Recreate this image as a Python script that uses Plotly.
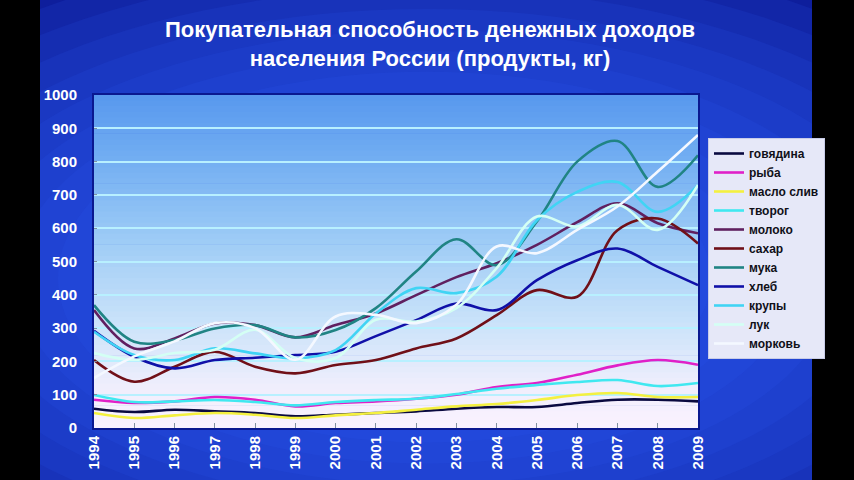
import plotly.graph_objects as go

years = list(range(1994, 2010))

beef   = [58, 48, 55, 50, 45, 35, 40, 45, 50, 58, 63, 63, 75, 85, 85, 80]
fish   = [85, 75, 80, 93, 85, 65, 75, 80, 88, 100, 123, 135, 160, 188, 204, 190]
butter = [45, 30, 38, 45, 40, 30, 38, 45, 55, 65, 72, 84, 99, 105, 93, 93]
curd   = [99, 78, 80, 84, 78, 68, 78, 84, 88, 102, 118, 129, 138, 144, 126, 135]
milk   = [354, 239, 269, 314, 309, 272, 309, 344, 399, 453, 495, 550, 618, 675, 615, 585]
sugar  = [204, 139, 184, 229, 184, 164, 189, 204, 239, 269, 339, 414, 394, 594, 629, 554]
flour  = [369, 259, 264, 299, 309, 272, 294, 360, 470, 567, 489, 620, 800, 862, 724, 819]
bread  = [292, 214, 179, 204, 211, 219, 229, 276, 324, 374, 354, 444, 504, 539, 484, 429]
groats = [289, 219, 204, 239, 224, 209, 234, 344, 420, 405, 454, 624, 709, 739, 649, 729]
onion  = [225, 205, 225, 235, 295, 210, 210, 325, 320, 360, 480, 635, 605, 670, 595, 730]
carrot = [150, 215, 260, 315, 300, 205, 335, 340, 315, 370, 545, 525, 595, 665, 770, 880]

names = ["говядина", "рыба", "масло слив", "творог", "молоко", "сахар",
         "мука", "хлеб", "крупы", "лук", "морковь"]
series = [beef, fish, butter, curd, milk, sugar, flour, bread, groats, onion, carrot]
colors = ["#0A0A40", "#E020C8", "#F4F040", "#40E8F0", "#602060", "#701018",
          "#208484", "#1010A8", "#40D4F4", "#D4FFF4", "#F4F8FF"]

fig = go.Figure()
for n, s, c in zip(names, series, colors):
    fig.add_trace(go.Scatter(x=years, y=s, name=n, mode="lines",
                             line=dict(color=c, width=2.6, shape="spline", smoothing=1.0)))

shapes = []
# background glow (soft, many layers)
K = 14
for i in range(K):
    r = 0.95 - i * 0.06
    shapes.append(dict(type="circle", xref="paper", yref="paper", layer="below",
                       x0=0.55 - r * 1.15, x1=0.55 + r * 1.15, y0=0.45 - r * 1.05, y1=0.45 + r * 1.05,
                       fillcolor="rgba(45,95,250,0.13)", line=dict(width=0)))

# plot area vertical gradient
stops = [(0.0, (250, 242, 255)), (0.12, (240, 238, 252)), (0.3, (205, 228, 250)),
         (0.55, (160, 205, 246)), (0.8, (115, 175, 242)), (1.0, (88, 152, 238))]
def interp(t):
    for (t0, c0), (t1, c1) in zip(stops[:-1], stops[1:]):
        if t0 <= t <= t1:
            f = (t - t0) / (t1 - t0)
            return tuple(int(round(a + (b - a) * f)) for a, b in zip(c0, c1))
    return stops[-1][1]
N = 60
for i in range(N):
    r, g, b = interp((i + 0.5) / N)
    shapes.append(dict(type="rect", xref="x domain", yref="y domain", layer="below",
                       x0=0, x1=1, y0=i / N, y1=(i + 1) / N + 0.002,
                       fillcolor=f"rgb({r},{g},{b})", line=dict(width=0)))

# black side bars
shapes.append(dict(type="rect", xref="paper", yref="paper", layer="above",
                   x0=-0.3, x1=(40 - 94) / 604, y0=-0.3, y1=1.4,
                   fillcolor="black", line=dict(width=0)))
shapes.append(dict(type="rect", xref="paper", yref="paper", layer="above",
                   x0=(812 - 94) / 604, x1=1.4, y0=-0.3, y1=1.4,
                   fillcolor="black", line=dict(width=0)))

fig.update_layout(
    width=854, height=480,
    margin=dict(l=94, r=156, t=95, b=52, autoexpand=False),
    paper_bgcolor="#0E1E9C",
    plot_bgcolor="rgba(0,0,0,0)",
    shapes=shapes,
    font=dict(family="Liberation Sans"),
    showlegend=True,
    legend=dict(x=(708 - 94) / 604, xanchor="left", y=(428 - 138) / 333, yanchor="top",
                bgcolor="#E6E8F8", bordercolor="#C8CCE8", borderwidth=1,
                font=dict(family="Liberation Sans", size=12, color="#101018", weight="bold"),
                itemwidth=30, tracegroupgap=0, entrywidth=62, entrywidthmode="pixels"),
    xaxis=dict(range=[1994, 2009], tickmode="array", tickvals=years,
               ticktext=[str(y) for y in years], tickangle=-90,
               tickfont=dict(size=15, color="white", weight="bold"),
               ticks="inside", ticklen=5, tickcolor="#8090A0",
               showgrid=False, zeroline=False,
               showline=True, linecolor="#0A1890", linewidth=2, mirror=True),
    yaxis=dict(range=[0, 1000], tickmode="array", tickvals=list(range(0, 1001, 100)),
               tickfont=dict(size=15, color="white", weight="bold"),
               ticks="inside", ticklen=3, tickcolor="#8090A0",
               showgrid=True, gridcolor="#B8F0FF", gridwidth=2, zeroline=False,
               showline=True, linecolor="#0A1890", linewidth=2, mirror=True,
               ticklabelstandoff=12),
    annotations=[dict(text="Покупательная способность денежных доходов<br>населения России (продукты, кг)",
                      xref="paper", yref="paper", x=(430 - 94) / 604, y=(428 - 44) / 333,
                      xanchor="center", yanchor="middle", showarrow=False,
                      font=dict(family="Liberation Sans", size=22, color="white", weight="bold"))],
)

fig.write_html("out.html", config={"displayModeBar": False},
               post_script="document.body.style.margin='0';document.body.style.background='#000';")
